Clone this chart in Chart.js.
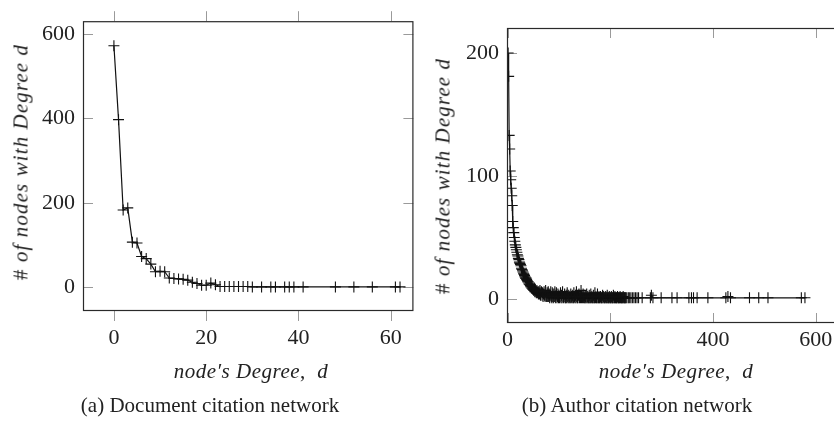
<!DOCTYPE html>
<html>
<head>
<meta charset="utf-8">
<script src="https://cdn.jsdelivr.net/npm/chart.js@4.4.1/dist/chart.umd.min.js"></script>
<style>
  html, body { margin: 0; padding: 0; background: #fff; overflow: hidden; }
  body { width: 834px; height: 437px; position: relative; }
  canvas { position: absolute; top: 0; }
  #docChart { left: 0; }
  #authChart { left: 420px; }
  .lbl {
    position: absolute;
    transform: translate(-50%, -50%);
    white-space: nowrap;
    font-family: "Times New Roman", "Liberation Serif", "DejaVu Serif", serif;
    color: #222;
  }
  .ytitle { font-size: 21px; font-style: italic; letter-spacing: 1.1px; transform: translate(-50%, -50%) rotate(-90deg); }
  .xtitle { font-size: 21px; font-style: italic; letter-spacing: 0.5px; }
  .up { font-style: normal; }
  .caption { font-size: 21px; }
</style>
</head>
<body>
<canvas id="docChart" width="420" height="437"></canvas>
<canvas id="authChart" width="440" height="437"></canvas>

<div class="lbl ytitle" style="left:21px; top:162px;"><span class="up">#</span> of nodes with Degree d</div>
<div class="lbl ytitle" style="left:443px; top:176px;"><span class="up">#</span> of nodes with Degree d</div>
<div class="lbl xtitle" style="left:251px; top:371px;">node′s Degree<span class="up">,</span>&nbsp; d</div>
<div class="lbl xtitle" style="left:676px; top:371px;">node′s Degree<span class="up">,</span>&nbsp; d</div>
<div class="lbl caption" style="left:210px; top:405px;">(a) Document citation network</div>
<div class="lbl caption" style="left:637px; top:405px;">(b) Author citation network</div>

<script>
// ===============================
// DATA
// ===============================
// (a) document citation network
const docDegrees = [0, 1, 2, 3, 4, 5, 6, 7, 8, 9, 10, 11, 12, 13, 14, 15, 16, 17, 18, 19, 20,
  21, 22, 23, 24, 25, 26, 27, 28, 29, 30, 32, 34, 35, 37, 38, 39, 41, 48, 52, 56, 61, 62];
const docCounts = [572, 397, 183, 188, 107, 105, 73, 68, 55, 37, 38, 37, 22, 21, 20, 19, 17, 12, 9, 5, 5,
  10, 6, 2, 2, 2, 2, 2, 2, 2, 1, 1, 1, 1, 1, 1, 1, 1, 1, 1, 1, 1, 1];
const docXTicks = [0, 20, 40, 60];
const docYTicks = [0, 200, 400, 600];

// (b) author citation network: degrees 1..230 are all present
const authDenseFirstDegree = 1;
const authDenseCounts = [
  200, 181, 133, 122, 104, 97, 90, 84, 76, 63, 58, 54, 50, 47, 44, 42, 40, 38, 36, 35,
  33, 32, 30, 29, 28, 27, 25, 24, 23, 22, 21, 20, 19, 18, 17, 17, 16, 15, 14, 14,
  13, 12, 12, 11, 10, 10, 9, 9, 8, 8, 7, 9, 6, 8, 6, 5, 7, 5, 6, 4,
  6, 4, 7, 3, 5, 6, 3, 5, 2, 4, 6, 3, 2, 7, 3, 2, 5, 2, 6, 2,
  4, 1, 3, 6, 2, 1, 5, 2, 1, 4, 2, 6, 1, 3, 5, 1, 2, 4, 1, 3,
  1, 2, 5, 1, 3, 1, 6, 2, 1, 2, 4, 1, 1, 3, 1, 5, 2, 1, 3, 1,
  2, 1, 4, 1, 2, 3, 1, 1, 5, 2, 1, 3, 1, 6, 2, 1, 1, 3, 4, 1,
  2, 1, 7, 1, 2, 1, 4, 1, 3, 1, 1, 2, 1, 4, 1, 2, 1, 1, 3, 1,
  1, 4, 1, 2, 1, 1, 3, 1, 1, 5, 1, 2, 1, 1, 4, 1, 1, 2, 1, 1,
  2, 1, 1, 1, 3, 1, 2, 1, 1, 1, 2, 1, 1, 3, 1, 1, 1, 2, 1, 1,
  1, 2, 1, 1, 1, 3, 1, 1, 2, 1, 1, 1, 1, 2, 1, 1, 1, 1, 2, 1,
  1, 1, 1, 1, 2, 1, 1, 1, 1, 1
];
const authTailDegrees = [232, 235, 237, 240, 243, 246, 249, 252, 255, 262, 278, 280, 283, 299, 320, 330,
  353, 358, 362, 369, 390, 425, 429, 434, 471, 489, 507, 572, 579];
const authTailCounts = [1, 1, 1, 1, 1, 1, 1, 1, 1, 1, 1, 3, 1, 1, 1, 1,
  1, 1, 1, 1, 1, 1, 2, 1, 1, 1, 1, 1, 1];
const authXTicks = [0, 200, 400, 600];
const authYTicks = [0, 100, 200];

// ===============================
// HELPERS
// ===============================
const FONT = { family: "'Times New Roman', 'Liberation Serif', 'DejaVu Serif', serif", size: 22 };
const INK = "#222";

function toPoints(xs, ys) {
  return xs.map((x, i) => ({ x, y: ys[i] }));
}

// box + pgfplots-like tick marks
const framePlugin = {
  id: "frame",
  beforeDatasetsDraw(chart, args, opts) {
    const { ctx, chartArea: a, scales } = chart;
    const len = 10;
    ctx.save();
    ctx.strokeStyle = "#9a9a9a";
    ctx.lineWidth = 1;
    ctx.beginPath();
    scales.x.ticks.forEach(t => {
      const px = Math.round(scales.x.getPixelForValue(t.value)) + 0.5;
      if (opts.xOutside) {
        ctx.moveTo(px, a.top - len); ctx.lineTo(px, a.top);
        ctx.moveTo(px, a.bottom); ctx.lineTo(px, a.bottom + len);
      } else {
        ctx.moveTo(px, a.top); ctx.lineTo(px, a.top + len);
        ctx.moveTo(px, a.bottom); ctx.lineTo(px, a.bottom - len);
      }
    });
    scales.y.ticks.forEach(t => {
      const py = Math.round(scales.y.getPixelForValue(t.value)) + 0.5;
      ctx.moveTo(a.left, py); ctx.lineTo(a.left + len, py);
      ctx.moveTo(a.right, py); ctx.lineTo(a.right - len, py);
    });
    ctx.stroke();
    ctx.restore();
  },
  afterDatasetsDraw(chart) {
    const { ctx, chartArea: a } = chart;
    ctx.save();
    ctx.strokeStyle = "#2a2a2a";
    ctx.lineWidth = 1.2;
    ctx.strokeRect(a.left + 0.5, a.top + 0.5, a.right - a.left - 1, a.bottom - a.top - 1);
    ctx.restore();
  }
};

function makeChart(id, cfg) {
  return new Chart(document.getElementById(id), {
    type: "line",
    data: {
      datasets: [{
        data: cfg.points,
        borderColor: "#111",
        borderWidth: 1.2,
        tension: 0,
        pointStyle: "cross",
        pointRadius: 5.5,
        pointBorderWidth: 1.1,
        pointBorderColor: "#111",
        pointBackgroundColor: "#111"
      }]
    },
    options: {
      responsive: false,
      animation: false,
      layout: { padding: cfg.padding },
      plugins: {
        legend: { display: false },
        tooltip: { enabled: false },
        frame: { xOutside: cfg.xOutside }
      },
      scales: {
        x: {
          type: "linear",
          min: cfg.xMin,
          max: cfg.xMax,
          grid: { display: false, drawTicks: false },
          border: { display: false },
          ticks: { font: FONT, color: INK, padding: cfg.xPad, maxRotation: 0, autoSkip: false },
          afterBuildTicks: s => { s.ticks = cfg.xTicks.map(v => ({ value: v })); },
          afterFit: s => { s.height = cfg.xHeight; }
        },
        y: {
          min: cfg.yMin,
          max: cfg.yMax,
          grid: { display: false, drawTicks: false },
          border: { display: false },
          ticks: { font: FONT, color: INK, padding: 8, autoSkip: false },
          afterBuildTicks: s => { s.ticks = cfg.yTicks.map(v => ({ value: v })); },
          afterFit: s => { s.width = cfg.yWidth; }
        }
      }
    },
    plugins: [framePlugin]
  });
}

// ===============================
// CHARTS
// ===============================
makeChart("docChart", {
  points: toPoints(docDegrees, docCounts),
  xMin: -6.7, xMax: 64.9, yMin: -56, yMax: 630,
  xTicks: docXTicks, yTicks: docYTicks,
  padding: { top: 16, right: 4, left: 0, bottom: 0 },
  yWidth: 83, xHeight: 126, xPad: 14, xOutside: true
});

const authDegrees = authDenseCounts.map((_, i) => authDenseFirstDegree + i).concat(authTailDegrees);
const authCounts = authDenseCounts.concat(authTailCounts);

makeChart("authChart", {
  points: toPoints(authDegrees, authCounts),
  xMin: -1.2, xMax: 657, yMin: -19.5, yMax: 220.3,
  xTicks: authXTicks, yTicks: authYTicks,
  padding: { top: 28, right: 15, left: 0, bottom: 0 },
  yWidth: 87, xHeight: 114, xPad: 4, xOutside: false
});
</script>
</body>
</html>
